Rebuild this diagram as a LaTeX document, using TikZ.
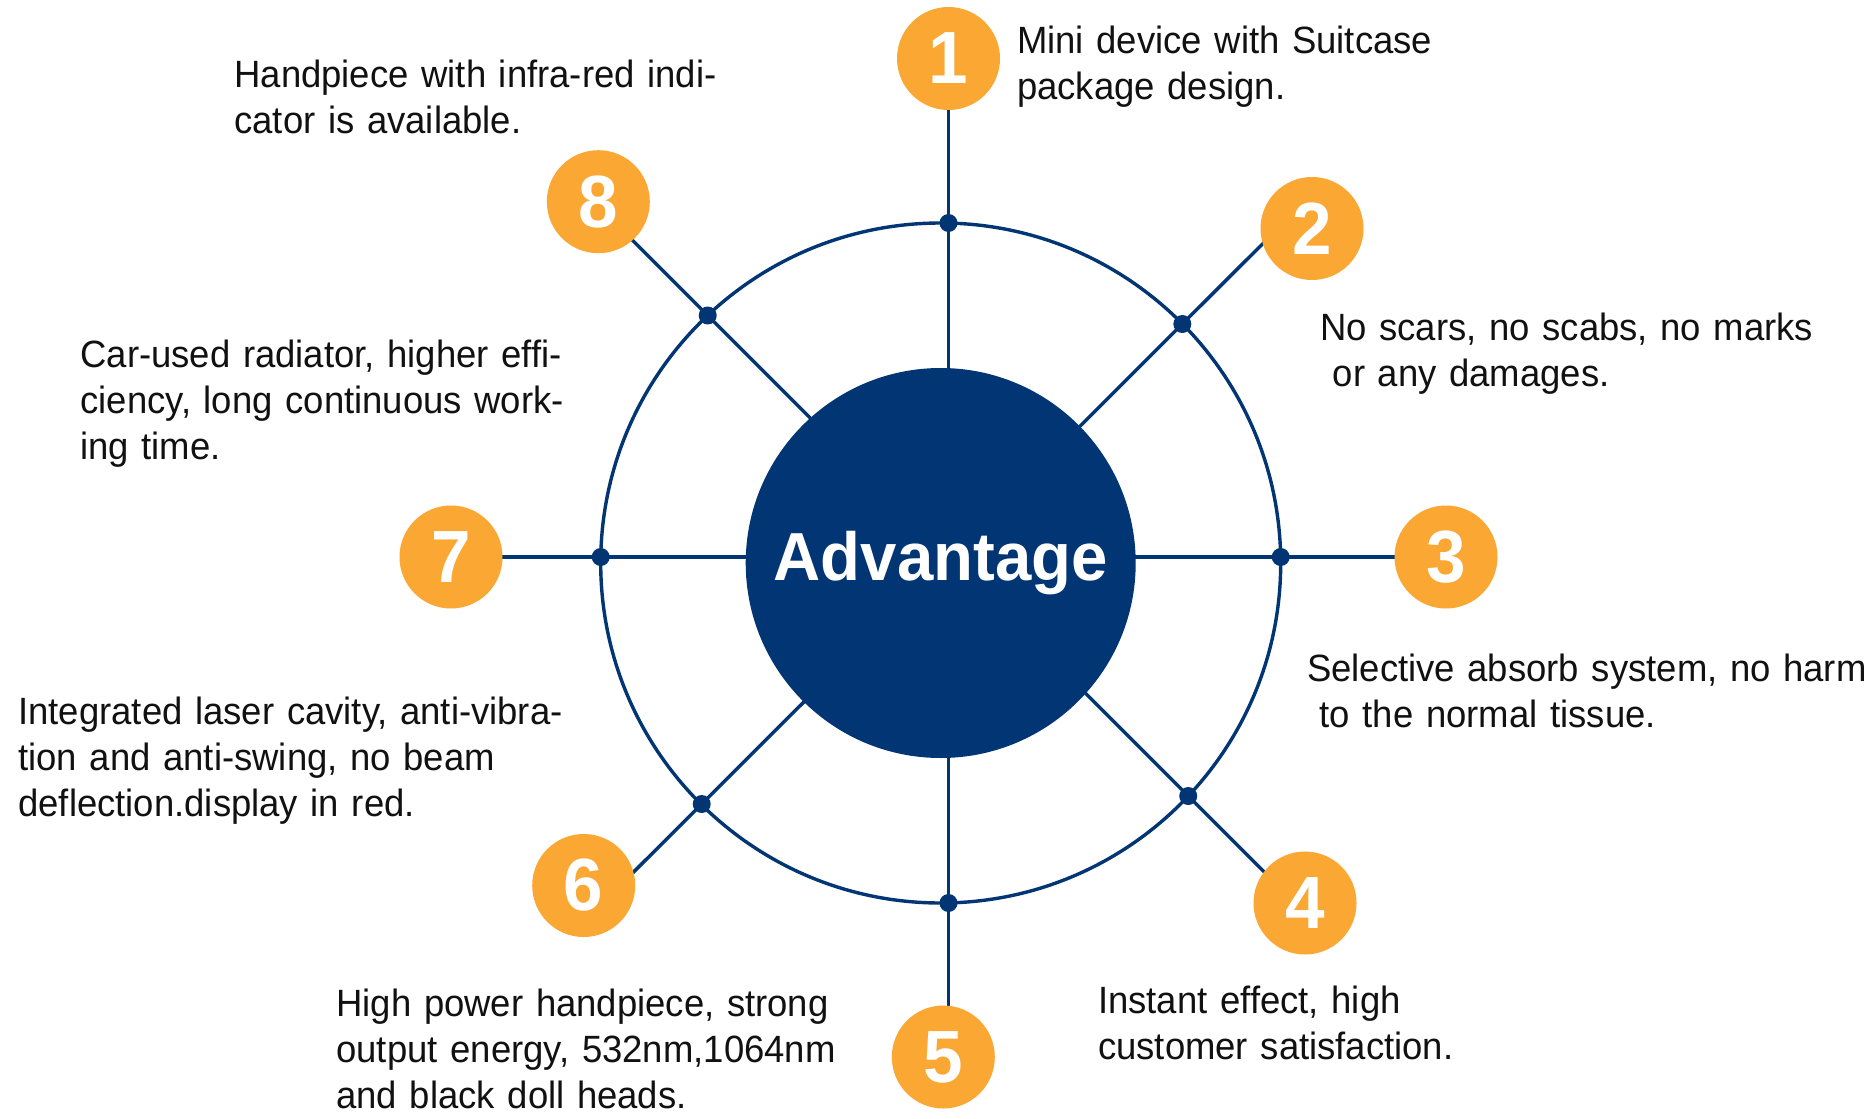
\documentclass[tikz,border=0pt]{standalone}
\usepackage{fontspec}
\setmainfont{Liberation Sans}
\newfontfamily\bodyfont[FakeStretch=0.96,WordSpace=0.82]{Liberation Sans}
\newcommand\descfont{\bodyfont\fontsize{19pt}{23pt}\selectfont}
\newcommand\numfont{\bodyfont\bfseries\fontsize{37pt}{37pt}\selectfont}
\newcommand\hubfont{\bodyfont\bfseries\fontsize{34pt}{34pt}\selectfont}
\usetikzlibrary{calc}
\definecolor{navy}{RGB}{2,53,116}
\definecolor{orng}{RGB}{251,167,51}
\definecolor{txt}{RGB}{17,17,17}
\pgfdeclarelayer{background}
\pgfsetlayers{background,main}
\begin{document}
\begin{tikzpicture}[x=0.5pt,y=-0.5pt,
  num/.style={circle,fill=orng,minimum size=51.5pt,inner sep=0pt,text=white,font=\numfont},
  hub/.style={circle,fill=navy,minimum size=195pt,inner sep=0pt,text=white,font=\hubfont},
  link/.style={draw=navy,line width=1.7pt},
  desc/.style={anchor=base west,inner sep=0pt,text width=320pt,align=left,font=\descfont,text=txt},
  joint/.style={fill=navy}]
\useasboundingbox (0,0) rectangle (1871,1118);
% numbered discs
\node[num] (n1) at (948.5,58.5) {1};
\node[num] (n2) at (1312,228.5) {2};
\node[num] (n3) at (1446,557) {3};
\node[num] (n4) at (1305,903) {4};
\node[num] (n5) at (943.3,1057) {5};
\node[num] (n6) at (583.7,885.5) {6};
\node[num] (n7) at (451,557) {7};
\node[num] (n8) at (598.3,201.7) {8};
% junction points on the ring
\coordinate (o) at (940.7,563);
\coordinate (d1) at (948.5,223);
\coordinate (d5) at (948.5,903);
\coordinate (d7) at (600.7,557);
\coordinate (d3) at (1280.7,557);
\coordinate (d8) at (707.7,315.5);
\coordinate (d4) at (1188.2,796);
\coordinate (d2) at (1182.3,324);
\coordinate (d6) at (701.7,804);
\begin{pgfonlayer}{background}
\fill[white] (0,0) rectangle (1871,1118);
\draw[link] (o) circle[radius=170pt];
\draw[link] ($(d1)!(n1)!(d5)$) -- (d1) -- (d5) -- ($(d1)!(n5)!(d5)$);
\draw[link] ($(d7)!(n7)!(d3)$) -- (d7) -- (d3) -- ($(d7)!(n3)!(d3)$);
\draw[link] ($(d8)!(n8)!(d4)$) -- (d8) -- (d4) -- ($(d8)!(n4)!(d4)$);
\draw[link] ($(d2)!(n2)!(d6)$) -- (d2) -- (d6) -- ($(d2)!(n6)!(d6)$);
\end{pgfonlayer}
\node[hub] (c) at (o) {Advantage};
\foreach \p in {d1,d2,d3,d4,d5,d6,d7,d8}
  \fill[joint] (\p) circle[radius=4.5pt];
% descriptions
\node[desc] (t1) at (1016.7,54) {Mini device with Suitcase\\package design.};
\node[desc] (t2) at (1319.7,340.3) {No scars, no scabs, no marks\\\mbox{}\ or any damages.};
\node[desc] (t3) at (1306.6,681.6) {Selective absorb system, no harm\\\mbox{}\ to the normal tissue.};
\node[desc] (t4) at (1097.7,1013.3) {Instant effect, high\\customer satisfaction.};
\node[desc] (t5) at (336,1016.9) {High power handpiece, strong\\output energy, 532nm,1064nm\\and black doll heads.};
\node[desc] (t6) at (18,724.5) {Integrated laser cavity, anti-vibra-\\tion and anti-swing, no beam\\deflection.display in red.};
\node[desc] (t7) at (80,367.8) {Car-used radiator, higher effi-\\ciency, long continuous work-\\ing time.};
\node[desc] (t8) at (234,87.4) {Handpiece with infra-red indi-\\cator is available.};
\end{tikzpicture}
\end{document}
